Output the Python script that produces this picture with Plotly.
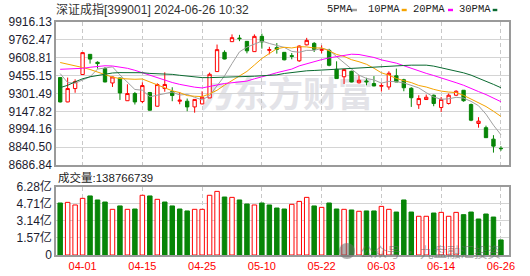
import base64
import plotly.graph_objects as go

dates = ["03-27", "03-28", "03-29",
         "04-01", "04-02", "04-03", "04-08", "04-09", "04-10", "04-11", "04-12",
         "04-15", "04-16", "04-17", "04-18", "04-19", "04-22", "04-23", "04-24",
         "04-25", "04-26", "04-29", "04-30", "05-06", "05-07", "05-08", "05-09",
         "05-10", "05-13", "05-14", "05-15", "05-16", "05-17", "05-20", "05-21",
         "05-22", "05-23", "05-24", "05-27", "05-28", "05-29", "05-30", "05-31",
         "06-03", "06-04", "06-05", "06-06", "06-07", "06-11", "06-12", "06-13",
         "06-14", "06-17", "06-18", "06-19", "06-20", "06-21", "06-24", "06-25",
         "06-26"]

open_ = [9438.3, 9229.0, 9344.0, 9464.9, 9638.2, 9569.6, 9515.5, 9392.0, 9434.9, 9239.3,
         9301.1, 9232.4, 9309.7, 9192.1, 9344.0, 9318.2, 9235.0, 9235.0, 9186.1, 9211.9,
         9263.3, 9489.8, 9655.3, 9747.1, 9778.0, 9749.7, 9661.3, 9792.6, 9672.5, 9695.7,
         9655.3, 9627.0, 9582.4, 9719.7, 9732.5, 9672.5, 9672.5, 9509.5, 9445.2, 9492.4,
         9393.7, 9409.2, 9386.9, 9363.7, 9357.7, 9453.8, 9419.4, 9346.5, 9205.0, 9249.6,
         9286.5, 9181.0, 9215.3, 9286.5, 9329.4, 9206.7, 9043.7, 9007.7, 8909.1, 8830.1]
high = [9443.5, 9438.3, 9423.7, 9655.3, 9640.0, 9578.1, 9529.3, 9445.2, 9436.6, 9380.8,
        9314.8, 9398.0, 9314.8, 9389.4, 9483.8, 9355.1, 9312.2, 9258.2, 9252.2, 9320.8,
        9481.2, 9722.3, 9672.5, 9809.7, 9805.5, 9751.0, 9809.7, 9815.8, 9702.5, 9735.1,
        9657.9, 9649.3, 9715.4, 9779.7, 9743.7, 9715.4, 9685.4, 9578.1, 9509.5, 9497.6,
        9458.0, 9436.6, 9451.2, 9393.7, 9492.4, 9515.5, 9428.0, 9355.1, 9286.5, 9292.5,
        9292.5, 9271.9, 9301.1, 9329.4, 9331.0, 9215.3, 9097.8, 9024.9, 8943.4, 8849.0]
low = [9223.9, 9226.4, 9307.9, 9462.3, 9558.4, 9515.5, 9398.0, 9357.7, 9246.2, 9237.6,
       9206.7, 9217.9, 9155.2, 9189.5, 9316.5, 9235.0, 9209.3, 9149.2, 9136.4, 9209.3,
       9263.3, 9488.1, 9595.3, 9745.4, 9751.4, 9646.8, 9659.6, 9687.1, 9638.2, 9644.2,
       9586.7, 9595.3, 9573.9, 9715.4, 9657.9, 9646.8, 9535.3, 9428.0, 9383.4, 9398.0,
       9386.9, 9372.3, 9364.0, 9318.2, 9333.7, 9400.6, 9320.8, 9186.1, 9169.0, 9249.6,
       9192.1, 9143.2, 9206.7, 9279.6, 9230.7, 9063.5, 9007.7, 8920.2, 8793.3, 8808.7]
close = [9229.0, 9344.0, 9404.0, 9652.8, 9597.0, 9558.4, 9400.6, 9443.5, 9306.2, 9301.1,
         9229.0, 9369.7, 9157.8, 9378.3, 9379.1, 9283.9, 9243.6, 9186.1, 9250.5, 9269.3,
         9466.6, 9678.5, 9597.9, 9781.4, 9772.9, 9668.2, 9792.6, 9745.4, 9678.5, 9681.1,
         9591.0, 9621.0, 9709.4, 9758.3, 9681.1, 9679.4, 9543.8, 9429.7, 9506.9, 9400.6,
         9415.2, 9402.3, 9366.3, 9369.7, 9475.2, 9400.6, 9350.8, 9265.0, 9258.2, 9269.3,
         9215.3, 9250.5, 9286.5, 9320.8, 9239.3, 9072.0, 9063.5, 8921.9, 8849.0, 8827.6]

ma5 = [9473.0, 9395.0, 9390.0, 9415.0, 9445.4, 9511.2, 9522.6, 9530.5, 9461.1, 9402.0,
       9336.1, 9329.9, 9272.8, 9287.2, 9302.8, 9313.8, 9288.5, 9294.2, 9268.6, 9246.7,
       9283.2, 9370.2, 9452.6, 9558.7, 9659.5, 9699.8, 9722.6, 9752.1, 9731.5, 9713.2,
       9697.7, 9663.4, 9656.2, 9672.2, 9672.2, 9689.8, 9674.4, 9618.5, 9568.2, 9512.1,
       9459.2, 9430.9, 9418.3, 9390.8, 9405.7, 9402.8, 9392.5, 9372.3, 9350.0, 9308.8,
       9271.7, 9251.7, 9256.0, 9268.5, 9262.5, 9233.8, 9196.4, 9123.5, 9029.1, 8946.8]
ma10 = [9568.0, 9555.0, 9540.0, 9525.0, 9508.0, 9485.0, 9462.0, 9442.0, 9430.0, 9423.7,
        9423.7, 9426.2, 9401.6, 9374.2, 9352.4, 9324.9, 9309.2, 9283.5, 9277.9, 9274.7,
        9298.5, 9329.4, 9373.4, 9413.7, 9453.1, 9491.5, 9546.4, 9602.3, 9645.1, 9686.3,
        9698.8, 9693.0, 9704.2, 9701.8, 9692.7, 9693.8, 9668.9, 9637.3, 9620.2, 9592.1,
        9574.5, 9552.7, 9518.4, 9479.5, 9458.9, 9431.0, 9411.7, 9395.3, 9370.4, 9357.3,
        9337.3, 9322.1, 9314.1, 9309.2, 9285.6, 9252.8, 9224.0, 9189.7, 9148.8, 9104.6]
ma20 = [9509.5, 9511.0, 9514.0, 9518.0, 9527.0, 9535.0, 9540.0, 9538.0, 9531.0, 9518.0,
        9501.0, 9480.0, 9458.0, 9437.0, 9415.0, 9396.0, 9380.0, 9366.0, 9356.0, 9349.2,
        9361.1, 9377.8, 9387.5, 9393.9, 9402.7, 9408.2, 9427.8, 9442.9, 9461.5, 9480.5,
        9498.6, 9511.2, 9538.8, 9557.8, 9572.9, 9592.6, 9607.7, 9619.8, 9632.7, 9639.2,
        9636.6, 9622.8, 9611.3, 9590.7, 9575.8, 9562.4, 9540.3, 9516.3, 9495.3, 9474.7,
        9455.9, 9437.4, 9416.2, 9394.4, 9372.3, 9341.9, 9317.9, 9292.5, 9259.6, 9231.0]
ma30 = [9352.0, 9372.0, 9402.0, 9428.0, 9445.0, 9458.0, 9470.0, 9478.0, 9481.0, 9482.0,
        9482.0, 9480.0, 9474.0, 9472.0, 9470.0, 9466.0, 9458.0, 9450.0, 9443.0, 9438.0,
        9438.0, 9439.0, 9440.0, 9442.0, 9444.0, 9447.0, 9450.0, 9454.0, 9458.0, 9461.6,
        9473.6, 9482.9, 9493.0, 9496.6, 9499.4, 9503.4, 9508.2, 9507.7, 9514.4, 9517.7,
        9523.9, 9525.0, 9532.0, 9531.7, 9534.9, 9538.8, 9542.3, 9545.0, 9545.2, 9545.2,
        9536.9, 9522.6, 9512.2, 9496.9, 9479.1, 9459.2, 9434.9, 9407.4, 9379.8, 9351.3]

# volume in 亿
volume = [4.78, 4.84, 4.60, 5.21, 5.43, 5.06, 4.87, 4.20, 4.51, 4.20,
          4.23, 5.49, 5.43, 5.12, 4.87, 4.51, 4.23, 4.05, 4.20, 4.20,
          5.49, 5.85, 5.33, 5.30, 5.06, 4.69, 4.60, 4.78, 4.60, 4.32,
          4.23, 4.66, 4.93, 5.30, 4.51, 4.38, 4.78, 4.23, 4.20, 4.14,
          4.02, 4.05, 4.05, 4.47, 4.20, 3.95, 5.06, 3.95, 3.56, 3.56,
          3.86, 3.92, 3.56, 3.92, 3.71, 3.95, 3.31, 3.77, 3.49, 1.3877]
vol_up = [0, 1, 1, 1, 0, 0, 0, 1, 0, 1,
          0, 1, 0, 1, 0, 0, 0, 0, 1, 1,
          1, 1, 0, 1, 0, 0, 1, 0, 0, 0,
          0, 1, 1, 1, 0, 1, 0, 0, 1, 0,
          1, 0, 0, 1, 1, 0, 0, 0, 1, 1,
          0, 1, 1, 1, 0, 0, 0, 0, 0, 0]

label_dates = ["04-01", "04-15", "04-25", "05-10", "05-22", "06-03", "06-14", "06-26"]
price_ticks = [8686.84, 8840.50, 8994.16, 9147.82, 9301.49, 9455.15, 9608.81, 9762.47, 9916.13]
price_labels = ["8686.84", "8840.50", "8994.16", "9147.82", "9301.49", "9455.15", "9608.81", "9762.47", "9916.13"]
vol_ticks = [0, 1.57, 3.14, 4.71, 6.28]
vol_labels = ["0", "1.57亿", "3.14亿", "4.71亿", "6.28亿"]
ma_names = ["5PMA", "10PMA", "20PMA", "30PMA"]
ma_colors = ["#a0a0a0", "#f5a300", "#ff00ff", "#0a6a30"]
title_text = "深证成指[399001] 2024-06-26 10:32"
vol_text = "成交量:138766739"

RED = "#ff0000"
GREEN = "#078507"

x = list(range(len(dates)))
tickpos = [dates.index(d) for d in label_dates]

# plot geometry (pixels)
L, R, T, B = 56, 509, 22, 255
W, H = R - L, B - T
def px(v):
    return (v - L) / W
def py(v):
    return (B - v) / H

fig = go.Figure()

fig.add_trace(go.Candlestick(
    x=x, open=open_, high=high, low=low, close=close,
    increasing=dict(line=dict(color=RED, width=1), fillcolor="white"),
    decreasing=dict(line=dict(color=GREEN, width=1), fillcolor=GREEN),
    whiskerwidth=0, xaxis="x", yaxis="y", hoverinfo="skip"))

for name, vals, col in zip(ma_names, [ma5, ma10, ma20, ma30], ma_colors):
    fig.add_trace(go.Scatter(x=x, y=vals, mode="lines", name=name,
                             line=dict(color=col, width=1), xaxis="x", yaxis="y",
                             hoverinfo="skip"))

fig.add_trace(go.Bar(
    x=x, y=volume, width=0.6,
    marker=dict(color=["white" if u else GREEN for u in vol_up],
                line=dict(color=[RED if u else GREEN for u in vol_up], width=1)),
    xaxis="x2", yaxis="y2", hoverinfo="skip"))

xr = [-0.56, 60.08]
common_x = dict(range=xr, tickmode="array", tickvals=tickpos, showgrid=True,
                gridcolor="#c8c8c8", griddash="4px,3px", gridwidth=1, zeroline=False,
                showline=True, mirror=True, linecolor="#9a9a9a", linewidth=1.5,
                ticks="", fixedrange=True, automargin=False)
common_y = dict(showgrid=True, gridcolor="#d4d4d4", gridwidth=1, zeroline=False,
                showline=True, mirror=True, linecolor="#9a9a9a", linewidth=1.5,
                ticks="", tickmode="array", fixedrange=True, automargin=False,
                tickfont=dict(family="Liberation Sans, Noto Sans CJK SC", size=12, color="#1c1c30"))

fig.update_layout(
    width=530, height=276,
    margin=dict(l=L, r=530 - R, t=T, b=276 - B, autoexpand=False),
    paper_bgcolor="white", plot_bgcolor="white",
    showlegend=False, hovermode=False, boxgap=0.36,
    xaxis=dict(**common_x, domain=[0, 1], anchor="y", showticklabels=False,
               rangeslider=dict(visible=False)),
    yaxis=dict(**common_y, domain=[py(165), 1], range=[price_ticks[0], price_ticks[-1]],
               tickvals=price_ticks, ticktext=price_labels),
    xaxis2=dict(**common_x, domain=[0, 1], anchor="y2", matches="x",
                ticktext=label_dates,
                tickfont=dict(family="Liberation Sans", size=11, color=RED)),
    yaxis2=dict(**common_y, domain=[0, py(186.7)], range=[0, 6.28],
                tickvals=vol_ticks, ticktext=vol_labels),
)

# title
fig.add_annotation(text=title_text, x=px(55), y=py(9.5), xref="paper", yref="paper",
                   xanchor="left", yanchor="middle", showarrow=False, borderpad=0,
                   font=dict(family="Liberation Sans, Noto Sans CJK SC", size=12, color="#333333"))
# volume caption
fig.add_annotation(text=vol_text, x=px(56.5), y=py(177.7), xref="paper", yref="paper",
                   xanchor="left", yanchor="middle", showarrow=False, borderpad=0,
                   font=dict(family="Liberation Sans, Noto Sans CJK SC", size=11.5, color="#222222"))

# custom legend
leg_text_x = [326, 366.7, 411.7, 458]
leg_dash_x = [(351, 357), (401.7, 406.7), (448, 453), (492.7, 497.3)]
for name, col, tx, (d0, d1) in zip(ma_names, ma_colors, leg_text_x, leg_dash_x):
    fig.add_annotation(text=name, x=px(tx), y=py(9.5), xref="paper", yref="paper",
                       xanchor="left", yanchor="middle", showarrow=False, borderpad=0,
                       font=dict(family="Liberation Mono", size=10.5, color="#222222"))
    fig.add_shape(type="rect", xref="paper", yref="paper", x0=px(d0), x1=px(d1),
                  y0=py(11.2), y1=py(8.8), fillcolor=col, line=dict(width=0))

# 东方财富 watermark (drawn beneath the traces)
svg = ('<svg xmlns="http://www.w3.org/2000/svg" width="170" height="38" viewBox="0 0 170 38">'
       '<g fill="#e3e3e8">'
       '<text x="5" y="33" font-family="Noto Sans CJK SC" font-weight="900" font-size="31" '
       'transform="skewX(-14)">乃</text>'
       '<text x="30" y="32" font-family="Noto Sans CJK SC" font-weight="700" font-size="35">东方财富</text>'
       '</g></svg>')
src = "data:image/svg+xml;base64," + base64.b64encode(svg.encode("utf-8")).decode("ascii")
fig.add_layout_image(dict(source=src, xref="paper", yref="paper", x=px(203), y=py(75),
                          sizex=170 / W, sizey=38 / H, xanchor="left", yanchor="top",
                          sizing="stretch", layer="below"))

# 公众号 watermark (on top, translucent)
fig.add_shape(type="circle", xref="paper", yref="paper", x0=px(339), x1=px(355),
              y0=py(259), y1=py(243), fillcolor="rgba(110,110,110,0.55)", line=dict(width=0))
fig.add_annotation(text="公众号 · 九盘融汇投资", x=px(359), y=py(251), xref="paper", yref="paper",
                   xanchor="left", yanchor="middle", showarrow=False, borderpad=0,
                   font=dict(family="Noto Sans CJK SC", size=13.5, color="rgba(105,105,105,0.55)"))

fig.write_html("out.html")
